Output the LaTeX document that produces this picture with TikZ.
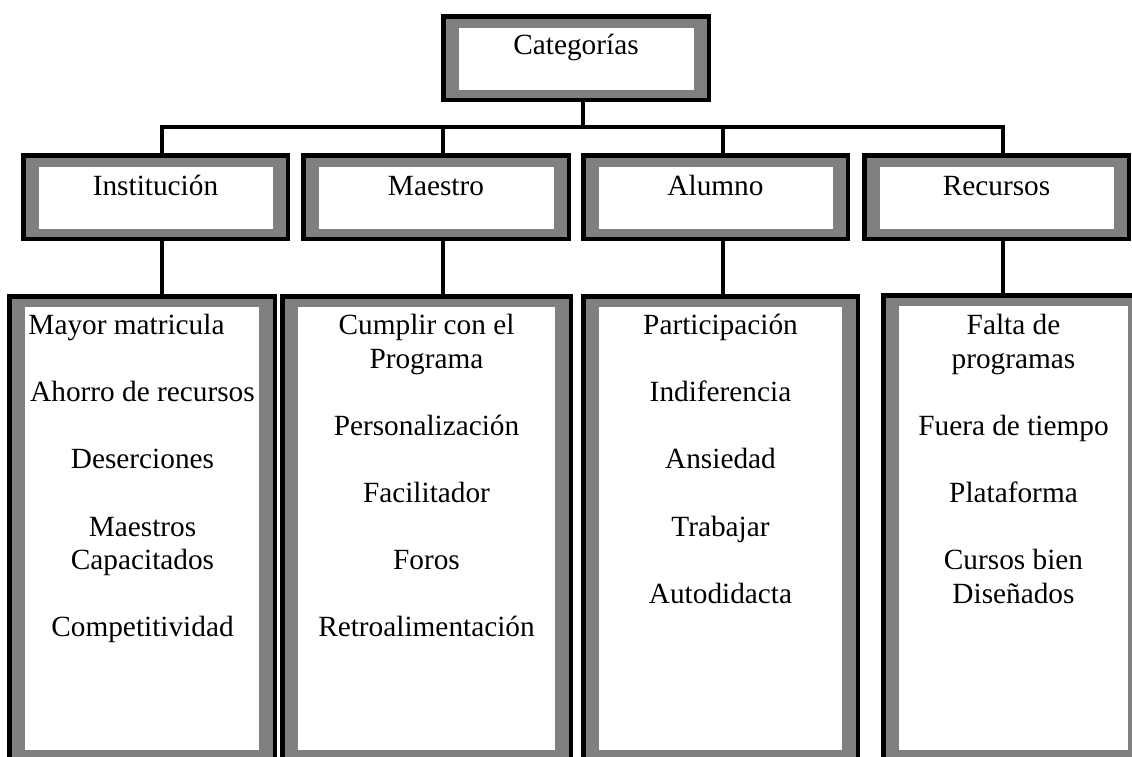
\documentclass[tikz,border=0pt]{standalone}
\usepackage{fontspec}
\setmainfont{Liberation Serif}
\usetikzlibrary{fit}
\definecolor{boxgray}{RGB}{128,128,128}
\tikzset{
  conn/.style={draw=black, line width=4pt, line join=miter},
  upframe/.style={fill=black, inner sep=0pt, outer sep=0pt, path picture={
    \fill[boxgray] ([shift={(4.5pt,4.5pt)}]path picture bounding box.south west) rectangle ([shift={(-4.5pt,-4.5pt)}]path picture bounding box.north east);
    \fill[white] ([shift={(17.5pt,12pt)}]path picture bounding box.south west) rectangle ([shift={(-17.5pt,-13.5pt)}]path picture bounding box.north east);
  }},
  lowframe/.style={fill=black, inner sep=0pt, outer sep=0pt, path picture={
    \fill[boxgray] ([shift={(4.5pt,4.5pt)}]path picture bounding box.south west) rectangle ([shift={(-4.5pt,-4.5pt)}]path picture bounding box.north east);
    \fill[white] ([shift={(18pt,12pt)}]path picture bounding box.south west) rectangle ([shift={(-18pt,-13pt)}]path picture bounding box.north east);
  }},
  lbl/.style={inner sep=0pt, anchor=base, font=\fontsize{29.3}{33.6}\selectfont},
}
\newcommand\itemcol[2]{\parbox[t]{#1}{\fontsize{29.3}{33.6}\selectfont\centering #2}}
\begin{document}
\begin{tikzpicture}[x=1pt,y=-1pt]
\useasboundingbox (0,0) rectangle (1132,756);
\fill[white] (0,0) rectangle (1132,756);
\begin{scope}
\clip (0,0) rectangle (1132,756);
% frames
\node[upframe, fit={(441,14) (711,102)}] (cat) {};
\node[upframe, fit={(21,153) (290,241)}] (inst) {};
\node[upframe, fit={(301,153) (571,241)}] (mae) {};
\node[upframe, fit={(581,153) (850,241)}] (alu) {};
\node[upframe, fit={(862,153) (1131,241)}] (rec) {};
\node[lowframe, fit={(7,294) (277,762)}] (instL) {};
\node[lowframe, fit={(280,294) (573,762)}] (maeL) {};
\node[lowframe, fit={(581,294) (860,762)}] (aluL) {};
\node[lowframe, fit={(881,293) (1146,762)}] (recL) {};
% connector points
\coordinate (busC) at (583,127);
\coordinate (busI) at (162,127);
\coordinate (busM) at (443,127);
\coordinate (busA) at (723,127);
\coordinate (busR) at (1003,127);
\draw[conn] (cat.south -| busC) -- (busC);
\draw[conn] (inst.north -| busI) -- (busI) -- (busR) -- (rec.north -| busR);
\draw[conn] (busM) -- (mae.north -| busM);
\draw[conn] (busA) -- (alu.north -| busA);
\draw[conn] (inst.south -| busI) -- (instL.north -| busI);
\draw[conn] (mae.south -| busM) -- (maeL.north -| busM);
\draw[conn] (alu.south -| busA) -- (aluL.north -| busA);
\draw[conn] (rec.south -| busR) -- (recL.north -| busR);
% labels
\node[lbl] (catT) at (576,54) {Categorías};
\node[lbl] (instT) at (155.5,195) {Institución};
\node[lbl] (maeT) at (436,195) {Maestro};
\node[lbl] (aluT) at (715.5,195) {Alumno};
\node[lbl] (recT) at (996.5,195) {Recursos};
% lists
\node[inner sep=0pt, anchor=base] (instX) at (142.5,334.5) {\itemcol{250pt}{Mayor matricula\kern32pt\\[33.6pt]Ahorro de recursos\\[33.6pt]Deserciones\\[33.6pt]Maestros\\Capacitados\\[33.6pt]Competitividad}};
\node[inner sep=0pt, anchor=base] (maeX) at (426.5,334.5) {\itemcol{260pt}{Cumplir con el\\Programa\\[33.6pt]Personalización\\[33.6pt]Facilitador\\[33.6pt]Foros\\[33.6pt]Retroalimentación}};
\node[inner sep=0pt, anchor=base] (aluX) at (720.5,334.5) {\itemcol{240pt}{Participación\\[33.6pt]Indiferencia\\[33.6pt]Ansiedad\\[33.6pt]Trabajar\\[33.6pt]Autodidacta}};
\node[inner sep=0pt, anchor=base] (recX) at (1013.5,334.5) {\itemcol{230pt}{Falta de\\programas\\[33.6pt]Fuera de tiempo\\[33.6pt]Plataforma\\[33.6pt]Cursos bien\\Diseñados}};
\end{scope}
\end{tikzpicture}
\end{document}
